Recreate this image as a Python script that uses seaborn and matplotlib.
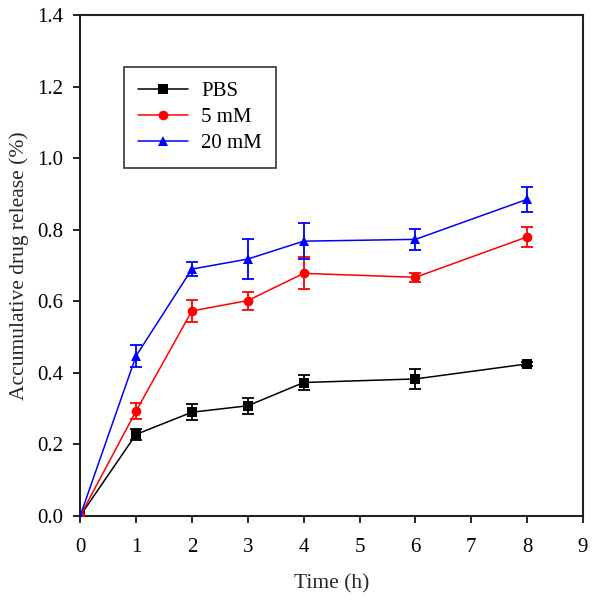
import numpy as np
import pandas as pd
import seaborn as sns
import matplotlib
matplotlib.use("Agg")
import matplotlib.pyplot as plt

time_h = [0, 1, 2, 3, 4, 6, 8]
series_names = ["PBS", "5 mM", "20 mM"]
pbs = [0.0, 0.228, 0.290, 0.308, 0.373, 0.383, 0.425]
pbs_err = [0.0, 0.015, 0.022, 0.022, 0.020, 0.027, 0.005]
mm5 = [0.0, 0.293, 0.573, 0.602, 0.678, 0.667, 0.780]
mm5_err = [0.0, 0.022, 0.030, 0.025, 0.045, 0.013, 0.028]
mm20 = [0.0, 0.447, 0.690, 0.718, 0.768, 0.773, 0.885]
mm20_err = [0.0, 0.030, 0.020, 0.055, 0.050, 0.030, 0.035]

colors = ["black", "red", "blue"]
markers = ["s", "o", "^"]

sns.set_theme(style="ticks")
plt.rcParams["font.family"] = ["Liberation Serif", "DejaVu Serif"]

rows = []
for name, vals, errs in zip(series_names, [pbs, mm5, mm20], [pbs_err, mm5_err, mm20_err]):
    for t, v, e in zip(time_h, vals, errs):
        rows.append({"Time": t, "Release": v, "Err": e, "Group": name})
df = pd.DataFrame(rows)

fig = plt.figure(figsize=(5.98, 6.0), dpi=100)
ax = fig.add_axes([0.134, 0.14, 0.841, 0.835])

for name, c, m in zip(series_names, colors, markers):
    sub = df[df["Group"] == name]
    ax.errorbar(sub["Time"], sub["Release"], yerr=sub["Err"], fmt="none",
                ecolor=c, elinewidth=1.3, capsize=4, capthick=1.3, zorder=2)
sns.lineplot(data=df, x="Time", y="Release", hue="Group", style="Group",
             palette=dict(zip(series_names, colors)),
             markers=dict(zip(series_names, markers)),
             dashes=False, markersize=7, markeredgewidth=0, linewidth=1.1,
             ax=ax, zorder=3)

ax.set_xlim(0, 9)
ax.set_ylim(0, 1.4)
ax.set_xticks(range(0, 10))
ax.set_yticks(np.arange(0, 1.41, 0.2))
ax.set_yticklabels([f"{v:.1f}" for v in np.arange(0, 1.41, 0.2)])
ax.tick_params(direction="out", length=5, width=1.2, labelsize=15, colors="black")
ax.tick_params(axis="x", pad=11)
ax.tick_params(axis="y", pad=7)
for s in ax.spines.values():
    s.set_linewidth(1.5)
    s.set_color("#222222")
ax.set_xlabel("Time (h)", fontsize=15.5, labelpad=12)
ax.set_ylabel("Accumulative drug release (%)", fontsize=15.5, labelpad=6)

leg = ax.legend(loc="upper left", bbox_to_anchor=(0.087, 0.896), borderaxespad=0,
                fontsize=15, frameon=True, fancybox=False, edgecolor="black",
                handlelength=2.4, handletextpad=0.6, markerscale=1.0,
                borderpad=0.7, labelspacing=0.3)
leg.get_frame().set_linewidth(1.2)
for t in leg.get_texts():
    t.set_color("black")

fig.savefig("out.png", dpi=100)
